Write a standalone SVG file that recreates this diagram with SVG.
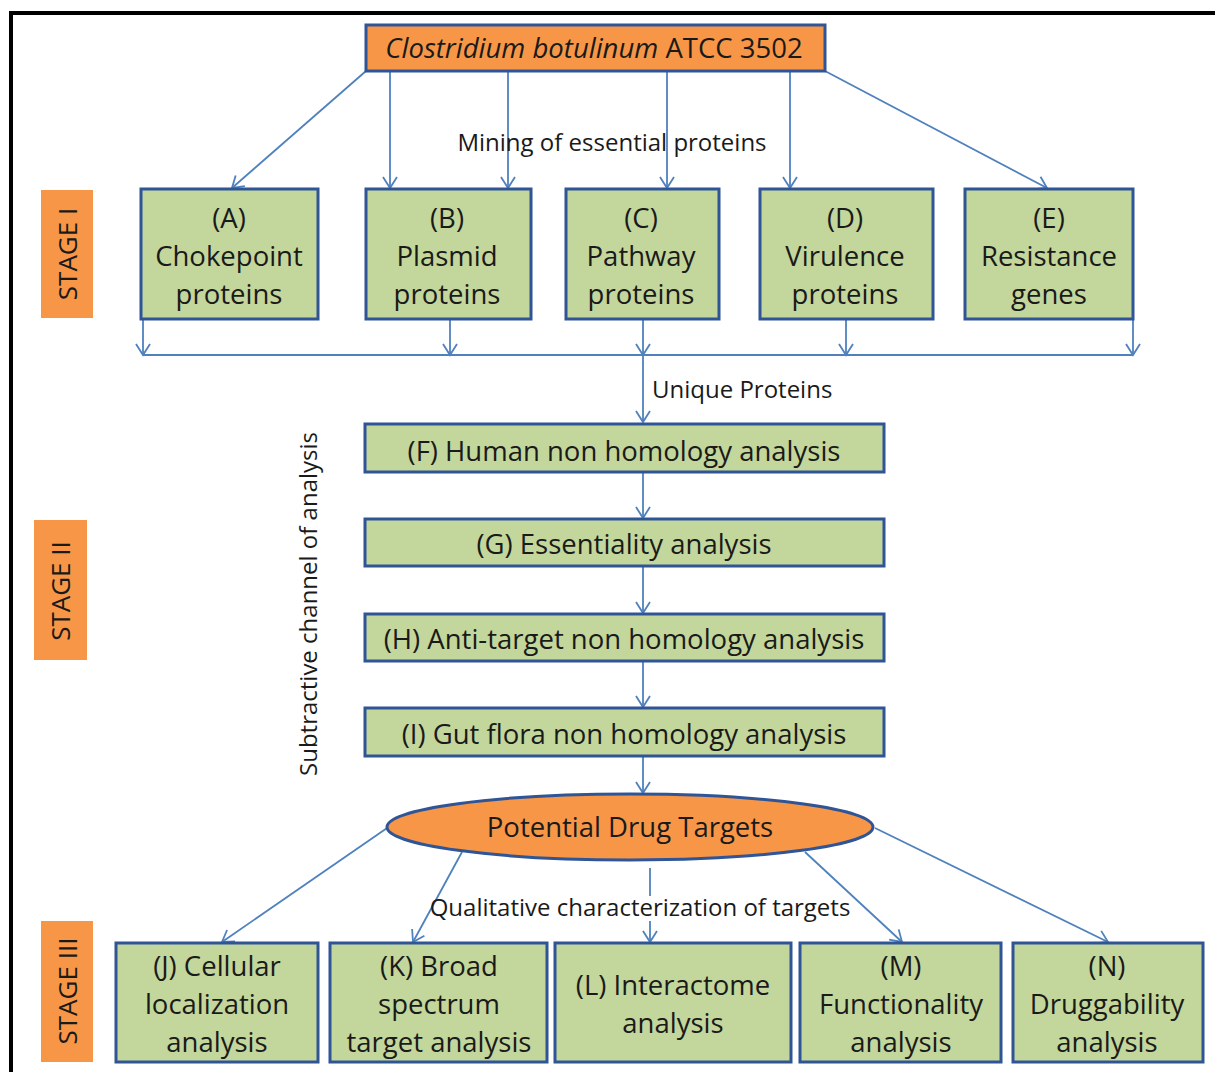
<svg xmlns="http://www.w3.org/2000/svg" width="1215" height="1072" viewBox="0 0 1215 1072">
<style>
.box{fill:#C3D69B;stroke:#2F5597;stroke-width:3}
.org{fill:#F79646;stroke:#2F5597;stroke-width:3}
.stage{fill:#F79646}
.t{font-family:"Open Sans","Liberation Sans",sans-serif;font-size:27.5px;fill:#1a1a1a;text-anchor:middle}
.lbl{font-family:"Open Sans","Liberation Sans",sans-serif;font-size:24px;fill:#1a1a1a}
.st{font-family:"Open Sans","Liberation Sans",sans-serif;font-size:26px;fill:#1a1a1a;text-anchor:middle}
.c{fill:none;stroke:#4F81BD;stroke-width:1.8}
.a{marker-end:url(#ah)}
</style>
<defs>
<marker id="ah" markerWidth="16" markerHeight="16" viewBox="0 0 16 16" refX="14" refY="8" orient="auto" markerUnits="userSpaceOnUse">
<path d="M3,1 L14,8 L3,15" fill="none" stroke="#4F81BD" stroke-width="1.8"/>
</marker>
</defs>
<rect x="0" y="0" width="1215" height="1072" fill="#fff"/>
<rect x="11" y="13" width="1230" height="1080" fill="none" stroke="#000" stroke-width="4"/>

<g id="connectors">
<path class="c a" d="M366,71 L232,188"/>
<path class="c a" d="M390,71 L390,188"/>
<path class="c a" d="M508,71 L508,188"/>
<path class="c a" d="M667,71 L667,188"/>
<path class="c a" d="M790,71 L790,188"/>
<path class="c a" d="M825,71 L1047,188"/>
<path class="c a" d="M143,320 L143,355"/>
<path class="c a" d="M450,320 L450,355"/>
<path class="c a" d="M643,320 L643,355"/>
<path class="c a" d="M846,320 L846,355"/>
<path class="c a" d="M1133,320 L1133,355"/>
<path class="c" d="M143,355 L1133,355"/>
<path class="c a" d="M643,355 L643,422"/>
<path class="c a" d="M643,473 L643,518"/>
<path class="c a" d="M643,567 L643,613"/>
<path class="c a" d="M643,662 L643,707"/>
<path class="c a" d="M643,757 L643,793"/>
<path class="c a" d="M390,826 L222,942"/>
<path class="c a" d="M462,852 L413,942"/>
<path class="c" d="M650,868 L650,896"/>
<path class="c a" d="M650,921 L650,942"/>
<path class="c a" d="M805,852 L902,942"/>
<path class="c a" d="M875,828 L1108,942"/>
</g>

<g id="labels">
<text class="lbl" x="612" y="151" text-anchor="middle">Mining of essential proteins</text>
<text class="lbl" x="652" y="398">Unique Proteins</text>
<text class="lbl" x="640" y="916" text-anchor="middle">Qualitative characterization of targets</text>
<text class="lbl" transform="translate(317,604) rotate(-90)" text-anchor="middle">Subtractive channel of analysis</text>
</g>

<g id="stage1"><rect class="stage" x="41" y="190" width="52" height="128"/><text class="st" transform="translate(67,254) rotate(-90)" dominant-baseline="central">STAGE I</text></g>
<g id="stage2"><rect class="stage" x="34" y="520" width="53" height="140"/><text class="st" transform="translate(60,591) rotate(-90)" dominant-baseline="central">STAGE II</text></g>
<g id="stage3"><rect class="stage" x="41" y="921" width="52" height="141"/><text class="st" transform="translate(67,991) rotate(-90)" dominant-baseline="central">STAGE III</text></g>

<g id="source"><rect class="org" x="366" y="25" width="459" height="46"/><text class="t" x="594" y="58"><tspan font-style="italic">Clostridium botulinum</tspan> ATCC 3502</text></g>

<g id="nodeA"><rect class="box" x="141" y="189" width="177" height="130"/><text class="t" x="229" y="228">(A)<tspan x="229" y="266">Chokepoint</tspan><tspan x="229" y="304">proteins</tspan></text></g>
<g id="nodeB"><rect class="box" x="366" y="189" width="165" height="130"/><text class="t" x="447" y="228">(B)<tspan x="447" y="266">Plasmid</tspan><tspan x="447" y="304">proteins</tspan></text></g>
<g id="nodeC"><rect class="box" x="566" y="189" width="153" height="130"/><text class="t" x="641" y="228">(C)<tspan x="641" y="266">Pathway</tspan><tspan x="641" y="304">proteins</tspan></text></g>
<g id="nodeD"><rect class="box" x="760" y="189" width="173" height="130"/><text class="t" x="845" y="228">(D)<tspan x="845" y="266">Virulence</tspan><tspan x="845" y="304">proteins</tspan></text></g>
<g id="nodeE"><rect class="box" x="965" y="189" width="168" height="130"/><text class="t" x="1049" y="228">(E)<tspan x="1049" y="266">Resistance</tspan><tspan x="1049" y="304">genes</tspan></text></g>

<g id="nodeF"><rect class="box" x="365" y="424" width="519" height="48"/><text class="t" x="624" y="461">(F) Human  non homology analysis</text></g>
<g id="nodeG"><rect class="box" x="365" y="519" width="519" height="47"/><text class="t" x="624" y="554">(G) Essentiality analysis</text></g>
<g id="nodeH"><rect class="box" x="365" y="614" width="519" height="47"/><text class="t" x="624" y="649">(H) Anti-target non homology analysis</text></g>
<g id="nodeI"><rect class="box" x="365" y="708" width="519" height="48"/><text class="t" x="624" y="744">(I) Gut flora non homology analysis</text></g>

<g id="targets"><ellipse class="org" cx="630" cy="827" rx="243" ry="33"/><text class="t" x="630" y="837">Potential Drug Targets</text></g>

<g id="nodeJ"><rect class="box" x="116" y="943" width="202" height="119"/><text class="t" x="217" y="976">(J) Cellular<tspan x="217" y="1014">localization</tspan><tspan x="217" y="1052">analysis</tspan></text></g>
<g id="nodeK"><rect class="box" x="330" y="943" width="217" height="119"/><text class="t" x="439" y="976">(K) Broad<tspan x="439" y="1014">spectrum</tspan><tspan x="439" y="1052">target analysis</tspan></text></g>
<g id="nodeL"><rect class="box" x="555" y="943" width="236" height="119"/><text class="t" x="673" y="995">(L) Interactome<tspan x="673" y="1033">analysis</tspan></text></g>
<g id="nodeM"><rect class="box" x="800" y="943" width="201" height="119"/><text class="t" x="901" y="976">(M)<tspan x="901" y="1014">Functionality</tspan><tspan x="901" y="1052">analysis</tspan></text></g>
<g id="nodeN"><rect class="box" x="1013" y="943" width="190" height="119"/><text class="t" x="1107" y="976">(N)<tspan x="1107" y="1014">Druggability</tspan><tspan x="1107" y="1052">analysis</tspan></text></g>
</svg>
